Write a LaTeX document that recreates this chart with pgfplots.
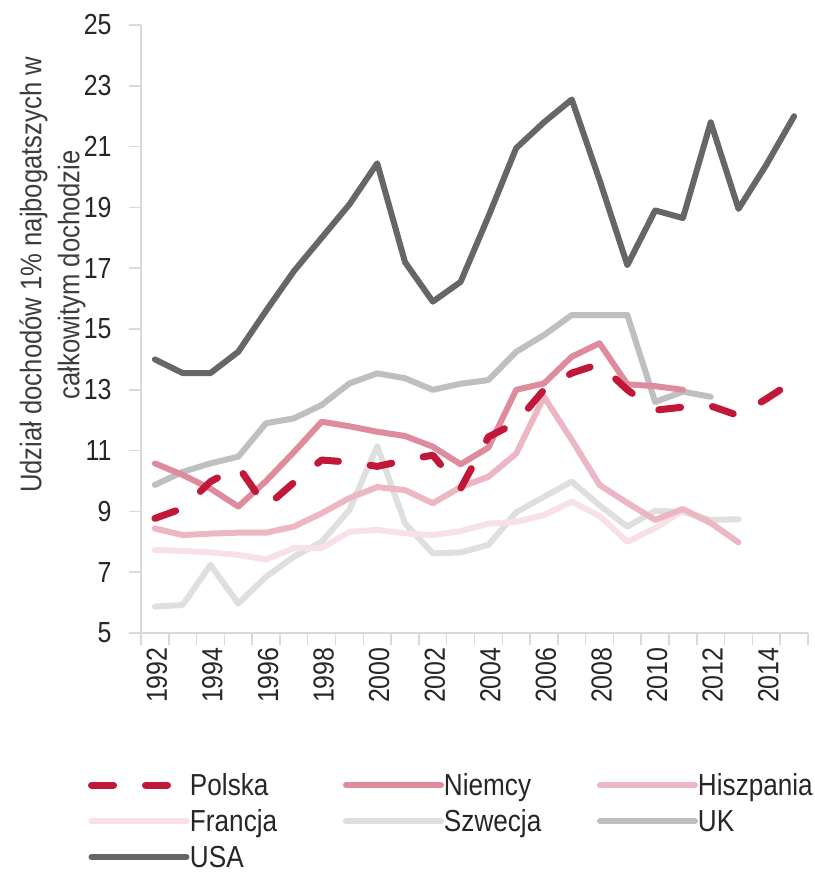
\documentclass[border=0pt]{standalone}
\usepackage{fontspec}
\setmainfont{Liberation Sans}[FakeStretch=0.86]
\usepackage{pgfplots}
\pgfplotsset{compat=1.18}
\definecolor{polska}{HTML}{C1183A}
\definecolor{niemcy}{HTML}{DE8B9C}
\definecolor{hiszpania}{HTML}{ECB7C2}
\definecolor{francja}{HTML}{F8E1E6}
\definecolor{szwecja}{HTML}{DFDFDF}
\definecolor{uk}{HTML}{BFBFBF}
\definecolor{usa}{HTML}{666666}
\definecolor{axisgray}{HTML}{D9D9D9}
\definecolor{textcol}{HTML}{262626}
\begin{document}
\begin{tikzpicture}
\begin{axis}[
  scale only axis,
  width=333.5pt, height=304pt,
  xmin=1991.5, xmax=2015.5,
  ymin=5, ymax=25,
  ytick={5,7,...,25},
  xtick={1992,1994,...,2014},
  minor xtick={1991.5,1992.5,...,2015.5},
  axis lines*=left,
  axis line style={draw=axisgray, line width=0.75pt},
  tick align=outside,
  major tick length=6pt,
  minor tick length=6pt,
  tick style={draw=axisgray, line width=0.75pt},
  major x tick style={draw=none},
  /pgf/number format/assume math mode=true,
  /pgf/number format/1000 sep={},
  tick label style={font=\fontsize{14.5}{17}\selectfont, text=textcol},
  xticklabel style={rotate=90, anchor=east, inner sep=1pt, yshift=-1pt},
  yticklabel style={anchor=east, inner sep=1pt, xshift=-7.5pt},
  ylabel={Udział dochodów 1\% najbogatszych w\\całkowitym dochodzie},
  every axis y label/.style={at={(axis description cs:-0.1327,0.589)}, rotate=90, anchor=center, align=center, font=\fontsize{14.9}{19}\selectfont, text=textcol!90!white},
  legend image code/.code={\draw[#1] (0pt,0pt) -- (47.5pt,0pt);},
  legend columns=3,
  legend cell align=left,
  legend style={at={(axis description cs:0,0)}, anchor=north west, xshift=-26.5pt, yshift=-69pt, draw=none, fill=none, inner sep=0pt, outer sep=0pt, row sep=4pt, font=\fontsize{15.2}{17}\selectfont, text=textcol, /tikz/every odd column/.style={column sep=0pt}, nodes={inner xsep=0pt, inner ysep=1pt, text height=11pt, text depth=1pt}},
  solid line/.style={line width=3pt, line cap=round, line join=round},
]
\addlegendimage{polska, line width=3.5pt, line cap=round, dash pattern=on 11pt off 16pt}
\addlegendentry{\makebox[76.5pt][l]{Polska}}
\addlegendimage{niemcy, solid line}
\addlegendentry{\makebox[76.5pt][l]{Niemcy}}
\addlegendimage{hiszpania, solid line}
\addlegendentry{\makebox[76.5pt][l]{Hiszpania}}
\addlegendimage{francja, solid line}
\addlegendentry{\makebox[76.5pt][l]{Francja}}
\addlegendimage{szwecja, solid line}
\addlegendentry{\makebox[76.5pt][l]{Szwecja}}
\addlegendimage{uk, solid line}
\addlegendentry{\makebox[76.5pt][l]{UK}}
\addlegendimage{usa, solid line}
\addlegendentry{\makebox[76.5pt][l]{USA}}

% Szwecja
\addplot[szwecja, solid line, forget plot] coordinates {
(1992,5.87) (1993,5.92) (1994,7.24) (1995,5.97) (1996,6.85) (1997,7.51) (1998,8.0) (1999,9.05) (2000,11.15) (2001,8.61) (2002,7.62) (2003,7.65) (2004,7.9) (2005,8.97) (2006,9.48) (2007,9.98) (2008,9.2) (2009,8.5) (2010,9.02) (2011,8.98) (2012,8.72) (2013,8.74)};
% Francja
\addplot[francja, solid line, forget plot] coordinates {
(1992,7.73) (1993,7.7) (1994,7.65) (1995,7.57) (1996,7.42) (1997,7.79) (1998,7.79) (1999,8.33) (2000,8.39) (2001,8.28) (2002,8.22) (2003,8.35) (2004,8.6) (2005,8.65) (2006,8.88) (2007,9.32) (2008,8.85) (2009,8.0) (2010,8.45) (2011,9.03) (2012,8.62)};
% UK
\addplot[uk, solid line, forget plot] coordinates {
(1992,9.87) (1993,10.3) (1994,10.58) (1995,10.8) (1996,11.9) (1997,12.06) (1998,12.5) (1999,13.21) (2000,13.54) (2001,13.38) (2002,13.0) (2003,13.2) (2004,13.32) (2005,14.25) (2006,14.8) (2007,15.46) (2008,15.46) (2009,15.46) (2010,12.6) (2011,12.94) (2012,12.77)};
% Hiszpania
\addplot[hiszpania, solid line, forget plot] coordinates {
(1992,8.44) (1993,8.22) (1994,8.27) (1995,8.3) (1996,8.3) (1997,8.5) (1998,8.94) (1999,9.44) (2000,9.8) (2001,9.7) (2002,9.27) (2003,9.8) (2004,10.14) (2005,10.9) (2006,12.77) (2007,11.35) (2008,9.87) (2009,9.28) (2010,8.72) (2011,9.08) (2012,8.62) (2013,7.98)};
% Niemcy
\addplot[niemcy, solid line, forget plot] coordinates {
(1992,10.58) (1993,10.2) (1994,9.75) (1995,9.16) (1996,10.0) (1997,10.95) (1998,11.95) (1999,11.8) (2000,11.62) (2001,11.48) (2002,11.13) (2003,10.55) (2004,11.1) (2005,13.0) (2006,13.21) (2007,14.09) (2008,14.53) (2009,13.18) (2010,13.12) (2011,13.0)};
% USA
\addplot[usa, solid line, forget plot] coordinates {
(1992,14.0) (1993,13.55) (1994,13.55) (1995,14.25) (1996,15.6) (1997,16.9) (1998,18.0) (1999,19.1) (2000,20.45) (2001,17.2) (2002,15.9) (2003,16.55) (2004,18.7) (2005,20.95) (2006,21.8) (2007,22.55) (2008,19.9) (2009,17.1) (2010,18.9) (2011,18.65) (2012,21.8) (2013,18.95) (2014,20.4) (2015,22.0)};
% Polska
\addplot[polska, line width=3.5pt, line cap=round, line join=round, dash pattern=on 11pt off 16pt, forget plot] coordinates {
(1992,8.77) (1993,9.1) (1994,9.98) (1995,10.47) (1996,9.15) (1997,9.95) (1998,10.69) (1999,10.62) (2000,10.48) (2001,10.68) (2002,10.85) (2003,9.75) (2004,11.45) (2005,11.92) (2006,13.0) (2007,13.55) (2008,13.85) (2009,13.0) (2010,12.33) (2011,12.43) (2012,12.47) (2013,12.15) (2014,12.7) (2015,13.3)};
\end{axis}
\pgfresetboundingbox
\path[use as bounding box] ([xshift=-70.5pt,yshift=-119.5pt]current axis.south west) rectangle ([xshift=336.5pt,yshift=316.5pt]current axis.south west);
\end{tikzpicture}
\end{document}
